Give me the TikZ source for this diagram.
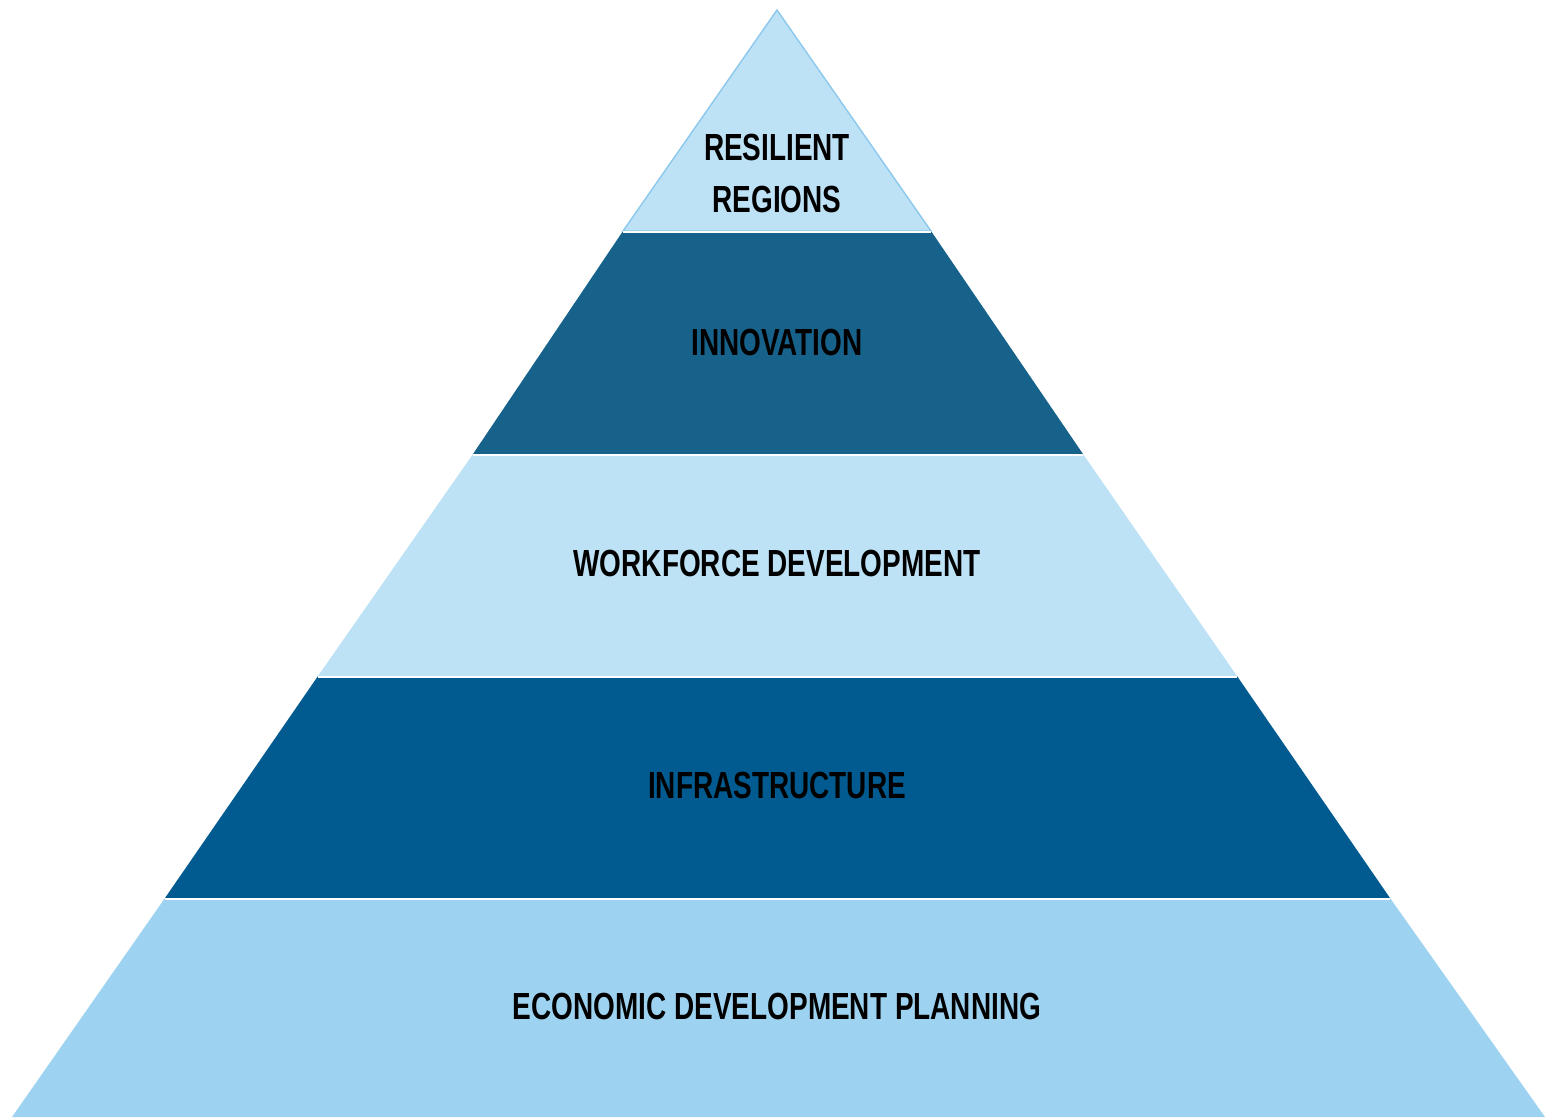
\documentclass[tikz,border=0pt]{standalone}
\usepackage{fontspec}
\setmainfont{Liberation Sans}[FakeStretch=0.74]
\usepackage{tikz}
\usetikzlibrary{positioning}
\usepackage{xcolor}
\definecolor{palesky}{HTML}{BEE2F5}
\definecolor{tealblue}{HTML}{17628B}
\definecolor{deepblue}{HTML}{015B90}
\definecolor{skyblue}{HTML}{9DD3F1}
\definecolor{rimblue}{HTML}{8CC8EC}

\begin{document}
\begin{tikzpicture}[x=0.02cm,y=-0.02cm,
	layer/.style={draw=white,line width=1.2pt},
	label/.style={font=\bfseries\fontsize{21.5}{29.6}\selectfont,text=black,align=center,inner sep=0pt}]
	\useasboundingbox (0,0) rectangle (1549,1117);
	% layers, bottom up
	\fill[skyblue] (165,898) -- (1390,898) -- (1545,1117) -- (12,1117) -- cycle;
	\fill[deepblue] (318,676) -- (1237,676) -- (1390,898) -- (165,898) -- cycle;
	\fill[palesky] (473,454) -- (1083,454) -- (1237,676) -- (318,676) -- cycle;
	\fill[tealblue] (623,231) -- (931,231) -- (1083,454) -- (473,454) -- cycle;
	\filldraw[fill=palesky,draw=rimblue,line width=0.8pt] (777,10) -- (931,231) -- (623,231) -- cycle;
	% gaps
	\begin{scope}[layer]
		\draw (623,232) -- (931,232);
		\draw (473,455) -- (1083,455);
		\draw (318,677) -- (1237,677);
		\draw (165,899) -- (1390,899);
	\end{scope}
	% texts
	\begin{scope}[every node/.style={label}]
		\node (resilient) at (777,173) {RESILIENT\\REGIONS};
		\node (innovation) at (777,342) {INNOVATION};
		\node (workforce) at (777,563) {WORKFORCE DEVELOPMENT};
		\node (infra) at (777,785) {INFRASTRUCTURE};
		\node (planning) at (777,1006) {ECONOMIC DEVELOPMENT PLANNING};
	\end{scope}
\end{tikzpicture}
\end{document}
